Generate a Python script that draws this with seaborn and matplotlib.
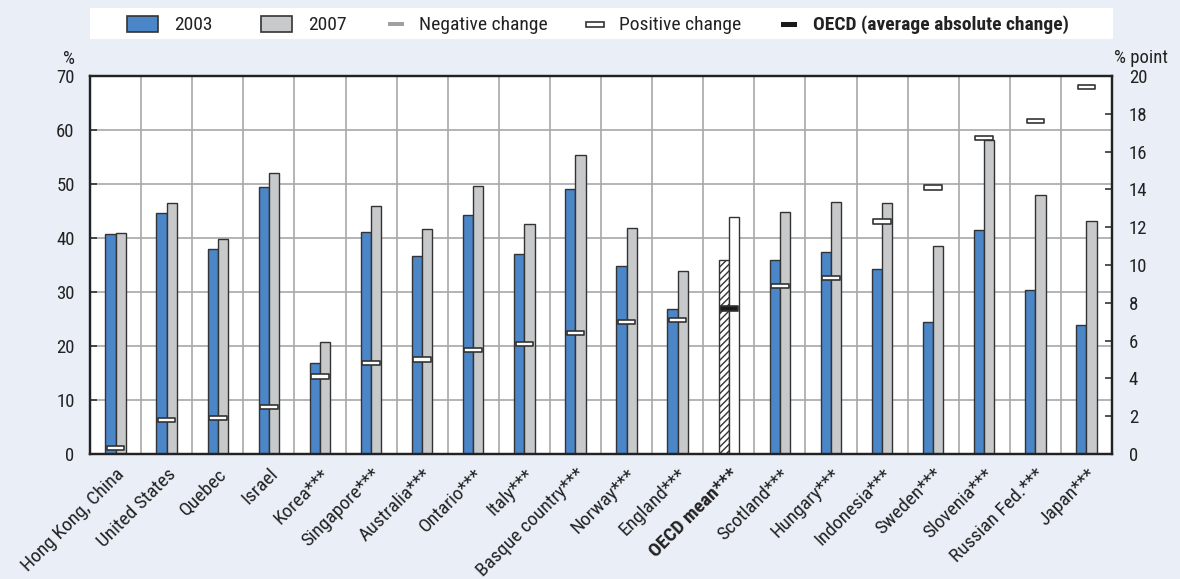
import numpy as np
import pandas as pd
import matplotlib
matplotlib.use("Agg")
import matplotlib.pyplot as plt
from matplotlib.patches import Rectangle
from matplotlib.path import Path
from matplotlib import font_manager as fm
import seaborn as sns

# ---------------- data ----------------
countries = ["Hong Kong, China", "United States", "Quebec", "Israel", "Korea***",
             "Singapore***", "Australia***", "Ontario***", "Italy***",
             "Basque country***", "Norway***", "England***", "OECD mean***",
             "Scotland***", "Hungary***", "Indonesia***", "Sweden***",
             "Slovenia***", "Russian Fed.***", "Japan***"]
pct_2003 = [40.7, 44.7, 38.0, 49.5, 16.8, 41.2, 36.7, 44.2, 37.0, 49.0,
            34.9, 26.8, 36.0, 35.9, 37.5, 34.3, 24.5, 41.5, 30.4, 23.8]
pct_2007 = [40.9, 46.4, 39.8, 52.0, 20.8, 45.9, 41.6, 49.6, 42.6, 55.4,
            41.8, 33.8, 43.8, 44.8, 46.7, 46.5, 38.5, 58.2, 47.9, 43.1]
change_pp = [0.3, 1.8, 1.9, 2.5, 4.1, 4.8, 5.0, 5.5, 5.8, 6.4,
             7.0, 7.1, 7.7, 8.9, 9.3, 12.3, 14.1, 16.7, 17.6, 19.4]
years = ["2003", "2007"]
oecd_label = "OECD mean***"
left_ticks = list(range(0, 71, 10))
right_ticks = list(range(0, 21, 2))
legend_labels = ["2003", "2007", "Negative change", "Positive change",
                 "OECD (average absolute change)"]

# ---------------- style ----------------
BG = "#E9EEF7"
BLUE = "#4A86C8"
GREY = "#C8C9CB"
EDGE = "#333333"
GRID = "#A8A8A8"
TXT = "#222222"

sns.set_style("white")

# pick a condensed sans if one is installed
entries = fm.fontManager.ttflist
names = {e.name for e in entries}
family = None
stretch = "normal"
for cand in ["Liberation Sans Narrow", "Roboto Condensed", "Open Sans Condensed",
             "DejaVu Sans Condensed", "Arial Narrow", "Nimbus Sans Narrow"]:
    if cand in names:
        family = cand
        break
if family is None:
    cond = [e for e in entries
            if (e.stretch in ("condensed", "semi-condensed", "extra-condensed")
                or (isinstance(e.stretch, (int, float)) and e.stretch < 500))]
    if cond:
        pref = [e for e in cond if e.name == "DejaVu Sans"]
        e0 = pref[0] if pref else cond[0]
        family = e0.name
        stretch = "condensed"
if family is None:
    family = "Roboto"
    scale = 0.84
else:
    scale = 1.0

plt.rcParams['font.family'] = [family, 'DejaVu Sans']
plt.rcParams['font.stretch'] = stretch
plt.rcParams['hatch.linewidth'] = 1.0

FS_TICK = 13.5 * scale
FS_X = 14 * scale
FS_LEG = 14 * scale

W, H = 1180, 579
fig = plt.figure(figsize=(W / 100, H / 100), dpi=100, facecolor=BG)


def fx(px):
    return px / W


def fy(py):
    return 1 - py / H


ax = fig.add_axes([fx(90), fy(454), fx(1112) - fx(90), fy(76) - fy(454)])
ax.set_facecolor("white")

n = len(countries)
df = pd.DataFrame({
    "country": countries * 2,
    "year": [years[0]] * n + [years[1]] * n,
    "value": pct_2003 + pct_2007,
})
sns.barplot(data=df, x="country", y="value", hue="year", order=countries,
            hue_order=years, palette=[BLUE, GREY], width=0.4, saturation=1,
            edgecolor=EDGE, linewidth=1.0, legend=False, errorbar=None,
            ax=ax, zorder=2)

oi = countries.index(oecd_label)
for p in ax.patches:
    cx = p.get_x() + p.get_width() / 2
    if abs(cx - oi) < 0.5:
        p.set_facecolor("white")
        if cx < oi:
            p.set_hatch("/////")

ax.set_xlim(-0.5, n - 0.5)
ax.set_ylim(0, 70)
ax.set_yticks(left_ticks)
ax.set_xticks(np.arange(n))
ax.set_xticklabels(countries, rotation=45, ha="right", va="top",
                   rotation_mode="anchor", fontsize=FS_X, color=TXT)
ax.get_xticklabels()[oi].set_fontweight("bold")
ax.set_xticks(np.arange(n + 1) - 0.5, minor=True)
ax.tick_params(axis="x", which="major", length=0, pad=8)
ax.tick_params(axis="x", which="minor", direction="in", length=7, width=1.2,
               color=EDGE)
ax.grid(axis="x", which="minor", color=GRID, linewidth=1.2)
ax.grid(axis="y", which="major", color=GRID, linewidth=1.2)
ax.set_axisbelow(True)
ax.tick_params(axis="y", direction="in", length=5, width=1.2, color=EDGE,
               labelsize=FS_TICK, pad=11, labelcolor=TXT)
ax.set_xlabel("")
ax.set_ylabel("")
for s in ax.spines.values():
    s.set_color("#222222")
    s.set_linewidth(1.6)

# ---------------- change markers (right axis) ----------------
ax2 = ax.twinx()
kind = ["OECD (average absolute change)" if c == oecd_label else "Positive change"
        for c in countries]
rect = Path([(-1, -0.24), (1, -0.24), (1, 0.24), (-1, 0.24), (-1, -0.24)],
            [Path.MOVETO, Path.LINETO, Path.LINETO, Path.LINETO, Path.CLOSEPOLY])
sns.scatterplot(x=np.arange(n), y=change_pp, hue=kind,
                palette={"Positive change": "white",
                         "OECD (average absolute change)": "#1a1a1a"},
                marker=rect, s=160, edgecolor=EDGE, linewidth=1.2,
                legend=False, ax=ax2, zorder=5)
ax2.set_xlim(-0.5, n - 0.5)
ax2.set_ylim(0, 20)
ax2.set_yticks(right_ticks)
ax2.tick_params(axis="y", direction="in", length=5, width=1.2, color=EDGE,
                labelsize=FS_TICK, pad=12, labelcolor=TXT)
ax2.set_ylabel("")
for s in ax2.spines.values():
    s.set_color("#222222")
    s.set_linewidth(1.6)

fig.text(fx(75), fy(64), "%", ha="right", va="baseline", fontsize=FS_TICK,
         color=TXT)
fig.text(fx(1114), fy(63), "% point", ha="left", va="baseline",
         fontsize=FS_TICK, color=TXT)

# ---------------- legend ----------------
lg = fig.add_axes([fx(90), fy(39), fx(1113) - fx(90), fy(8) - fy(39)])
lg.set_facecolor("white")
lg.set_xlim(90, 1113)
lg.set_ylim(39, 8)
lg.set_xticks([])
lg.set_yticks([])
for s in lg.spines.values():
    s.set_visible(False)
ty = 24.5
lg.add_patch(Rectangle((127, 16), 31, 16, fc=BLUE, ec=EDGE, lw=1.2))
lg.text(174, ty, legend_labels[0], va="center", fontsize=FS_LEG, color=TXT)
lg.add_patch(Rectangle((261, 16), 31, 16, fc=GREY, ec=EDGE, lw=1.2))
lg.text(308, ty, legend_labels[1], va="center", fontsize=FS_LEG, color=TXT)
lg.add_patch(Rectangle((388, 22), 16, 4, fc="#A0A0A0", ec="none"))
lg.text(419, ty, legend_labels[2], va="center", fontsize=FS_LEG, color=TXT)
lg.add_patch(Rectangle((586, 21.5), 18, 5, fc="white", ec=EDGE, lw=1.2))
lg.text(619, ty, legend_labels[3], va="center", fontsize=FS_LEG, color=TXT)
lg.add_patch(Rectangle((781, 22), 16, 4.5, fc="#1a1a1a", ec="none"))
lg.text(813, ty, legend_labels[4], va="center", fontsize=FS_LEG, color=TXT,
        fontweight="bold")

fig.savefig("out.png", dpi=100, facecolor=BG)
